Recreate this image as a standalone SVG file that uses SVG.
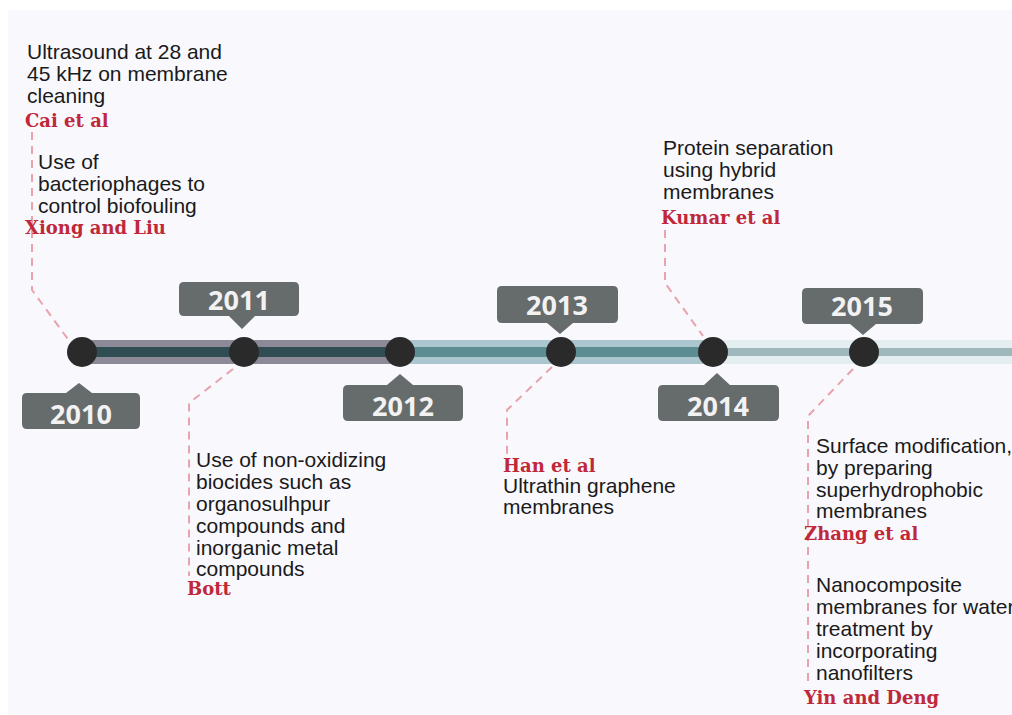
<svg xmlns="http://www.w3.org/2000/svg" width="1012" height="715" viewBox="0 0 1012 715">
<style>
.t{font-family:"Liberation Sans",Arial,sans-serif;font-size:21px;fill:#1a1a1a}
.r{font-family:"DejaVu Serif","Liberation Serif",serif;font-weight:bold;font-size:18px;fill:#c0283a}
.y{font-family:"Open Sans","DejaVu Sans",sans-serif;font-weight:bold;font-size:27px;fill:#f2f2f2;text-anchor:middle}
.box{fill:#666b6c}
.dot{fill:#2a2a2a}
.dash{fill:none;stroke:#e8a3ad;stroke-width:2;stroke-dasharray:8 6}
</style>
<rect x="0" y="0" width="1012" height="715" fill="#ffffff"/>
<rect x="8" y="10" width="1004" height="705" fill="#f8f8fd"/>
<g id="timeline">
<rect x="82" y="340" width="318" height="24" fill="#8b8a96"/>
<rect x="82" y="347" width="318" height="10" fill="#2f4d53"/>
<rect x="400" y="340" width="313" height="24" fill="#abc6ce"/>
<rect x="400" y="347" width="313" height="10" fill="#5b8d93"/>
<rect x="713" y="340" width="299" height="24" fill="#e4edf0"/>
<rect x="713" y="348" width="299" height="8" fill="#9eb8bc"/>
</g>
<g id="connectors">
<polyline class="dash" points="32,132 32,290 70,342"/>
<polyline class="dash" points="233,369 189,403 189,576"/>
<polyline class="dash" points="552,367 507,410 507,458"/>
<polyline class="dash" points="665,230 665,283 703,336"/>
<polyline class="dash" points="853,369 808,416 808,686"/>
</g>
<g id="node-2010">
<circle class="dot" cx="82" cy="352" r="15"/>
<path class="box" d="M27,393 H66 L79,383 L92,393 H135 Q140,393 140,398 V424 Q140,429 135,429 H27 Q22,429 22,424 V398 Q22,393 27,393 Z"/>
<text class="y" x="81" y="424">2010</text>
<text class="t" x="27" y="59">Ultrasound at 28 and</text>
<text class="t" x="27" y="81">45 kHz on membrane</text>
<text class="t" x="27" y="103">cleaning</text>
<text class="r" x="25" y="127">Cai et al</text>
<text class="t" x="38" y="169">Use of</text>
<text class="t" x="38" y="191">bacteriophages to</text>
<text class="t" x="38" y="213">control biofouling</text>
<text class="r" x="25" y="234">Xiong and Liu</text>
</g>
<g id="node-2011">
<circle class="dot" cx="244" cy="352" r="15"/>
<path class="box" d="M184,282 H294 Q299,282 299,287 V311 Q299,316 294,316 H255 L242,329 L229,316 H184 Q179,316 179,311 V287 Q179,282 184,282 Z"/>
<text class="y" x="239" y="310">2011</text>
<text class="t" x="196" y="467">Use of non-oxidizing</text>
<text class="t" x="196" y="489">biocides such as</text>
<text class="t" x="196" y="511">organosulhpur</text>
<text class="t" x="196" y="533">compounds and</text>
<text class="t" x="196" y="555">inorganic metal</text>
<text class="t" x="196" y="576">compounds</text>
<text class="r" x="187" y="595">Bott</text>
</g>
<g id="node-2012">
<circle class="dot" cx="400" cy="352" r="15"/>
<path class="box" d="M348,385 H387 L400,374 L413,385 H458 Q463,385 463,390 V416 Q463,421 458,421 H348 Q343,421 343,416 V390 Q343,385 348,385 Z"/>
<text class="y" x="403" y="416">2012</text>
</g>
<g id="node-2013">
<circle class="dot" cx="561" cy="352" r="15"/>
<path class="box" d="M502,286 H613 Q618,286 618,291 V318 Q618,323 613,323 H573 L560,334 L547,323 H502 Q497,323 497,318 V291 Q497,286 502,286 Z"/>
<text class="y" x="557" y="315">2013</text>
<text class="r" x="503" y="472">Han et al</text>
<text class="t" x="503" y="493">Ultrathin graphene</text>
<text class="t" x="503" y="514">membranes</text>
</g>
<g id="node-2014">
<circle class="dot" cx="713" cy="352" r="15"/>
<path class="box" d="M663,385 H704 L717,373 L730,385 H774 Q779,385 779,390 V416 Q779,421 774,421 H663 Q658,421 658,416 V390 Q658,385 663,385 Z"/>
<text class="y" x="718" y="416">2014</text>
<text class="t" x="663" y="155">Protein separation</text>
<text class="t" x="663" y="177">using hybrid</text>
<text class="t" x="663" y="199">membranes</text>
<text class="r" x="661" y="224">Kumar et al</text>
</g>
<g id="node-2015">
<circle class="dot" cx="864" cy="352" r="15"/>
<path class="box" d="M807,288 H918 Q923,288 923,293 V319 Q923,324 918,324 H876 L863,335 L850,324 H807 Q802,324 802,319 V293 Q802,288 807,288 Z"/>
<text class="y" x="862" y="316">2015</text>
<text class="t" x="816" y="453">Surface modification,</text>
<text class="t" x="816" y="475">by preparing</text>
<text class="t" x="816" y="497">superhydrophobic</text>
<text class="t" x="816" y="518">membranes</text>
<text class="r" x="804" y="540">Zhang et al</text>
<text class="t" x="816" y="592">Nanocomposite</text>
<text class="t" x="816" y="614">membranes for water</text>
<text class="t" x="816" y="636">treatment by</text>
<text class="t" x="816" y="658">incorporating</text>
<text class="t" x="816" y="680">nanofilters</text>
<text class="r" x="804" y="704">Yin and Deng</text>
</g>
</svg>
